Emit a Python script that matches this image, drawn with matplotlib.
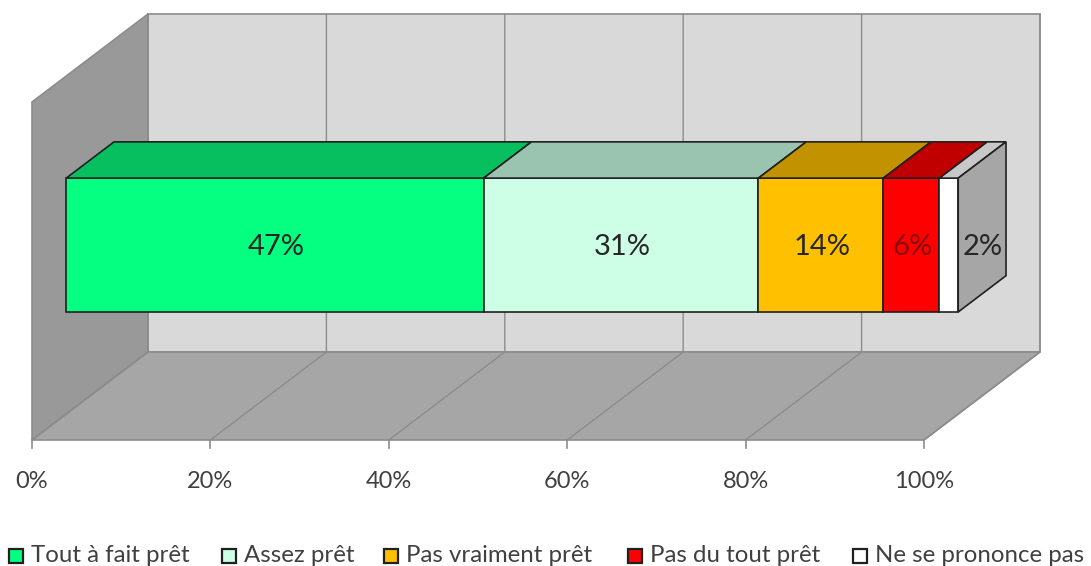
import matplotlib
matplotlib.use("Agg")
import matplotlib.pyplot as plt
from matplotlib.patches import Polygon, Rectangle

categories = ["Tout à fait prêt", "Assez prêt", "Pas vraiment prêt", "Pas du tout prêt", "Ne se prononce pas"]
values = [46.8, 30.8, 14.0, 6.3, 2.1]
shown_labels = ["47%", "31%", "14%", "6%", "2%"]
label_colors = ["#262626", "#262626", "#262626", "#8A0A0A", "#262626"]
front_colors = ["#05FF80", "#CCFFE6", "#FFC000", "#FF0000", "#FFFFFF"]
top_colors = ["#08BF60", "#9BC4B0", "#C29200", "#C00000", "#C8C8C8"]
axis_ticks = [0, 20, 40, 60, 80, 100]

plt.rcParams["font.family"] = ["Lato", "DejaVu Sans"]

# fake 3d box, pixel layout of the chart frame
X0, X100 = 32, 924
Y_FLOOR, Y_TOP = 440, 102
DX, DY = 116, -88
BAR_D0, BAR_D1 = 0.295, 0.707
BAR_H0, BAR_H1 = 0.302, 0.698


def proj(pct, h, d):
    x = X0 + (X100 - X0) * pct / 100 + DX * d
    y = Y_FLOOR + (Y_TOP - Y_FLOOR) * h + DY * d
    return (x, y)


def face(ax, pts, color, edge="#202020", lw=1.2, z=2):
    ax.add_patch(Polygon(pts, closed=True, facecolor=color, edgecolor=edge, linewidth=lw, zorder=z))


fig = plt.figure(figsize=(10.91, 5.66), dpi=100)
ax = fig.add_axes([0, 0, 1, 1])
ax.set_xlim(0, 1091)
ax.set_ylim(566, 0)
ax.axis("off")

# walls and floor
wall_edge = "#8C8C8C"
face(ax, [proj(0, 0, 1), proj(100, 0, 1), proj(100, 1, 1), proj(0, 1, 1)], "#D9D9D9", wall_edge, z=1)
face(ax, [proj(0, 0, 0), proj(0, 0, 1), proj(0, 1, 1), proj(0, 1, 0)], "#999999", wall_edge, z=1)
face(ax, [proj(0, 0, 0), proj(100, 0, 0), proj(100, 0, 1), proj(0, 0, 1)], "#A6A6A6", wall_edge, z=1)

for t in axis_ticks:
    xs, ys = zip(proj(t, 0, 0), proj(t, 0, 1), proj(t, 1, 1))
    ax.plot(xs, ys, color=wall_edge, lw=1.0, zorder=1.5)
    tx, ty = proj(t, 0, 0)
    ax.plot([tx, tx], [ty, ty + 8], color=wall_edge, lw=1.2, zorder=1.5)
    ax.text(tx, 481, f"{t}%", ha="center", va="center", fontsize=17, color="#404040")

# stacked bar
left = 0
mid_h = (BAR_H0 + BAR_H1) / 2
for i, v in enumerate(values):
    right = left + v
    face(ax, [proj(left, BAR_H0, BAR_D0), proj(right, BAR_H0, BAR_D0),
              proj(right, BAR_H1, BAR_D0), proj(left, BAR_H1, BAR_D0)], front_colors[i], z=3)
    face(ax, [proj(left, BAR_H1, BAR_D0), proj(right, BAR_H1, BAR_D0),
              proj(right, BAR_H1, BAR_D1), proj(left, BAR_H1, BAR_D1)], top_colors[i], z=3)
    cx, cy = proj((left + right) / 2, mid_h, BAR_D0)
    if i == len(values) - 1:
        # last label sits on the side face, same height as the others
        cx = proj(100, mid_h, (BAR_D0 + BAR_D1) / 2)[0]
    ax.text(cx + 1, cy + 2, shown_labels[i], ha="center", va="center", fontsize=21,
            color=label_colors[i], zorder=5)
    left = right

face(ax, [proj(100, BAR_H0, BAR_D0), proj(100, BAR_H0, BAR_D1),
          proj(100, BAR_H1, BAR_D1), proj(100, BAR_H1, BAR_D0)], "#A6A6A6", z=3)

# legend
legend_x = [9, 222, 384, 628, 853]
for lx, name, col in zip(legend_x, categories, front_colors):
    ax.add_patch(Rectangle((lx, 549), 14, 14, facecolor=col, edgecolor="#202020", linewidth=1.6, zorder=3))
    ax.text(lx + 22, 555, name, ha="left", va="center", fontsize=17.3, color="#404040")

fig.savefig("out.png", dpi=100)
